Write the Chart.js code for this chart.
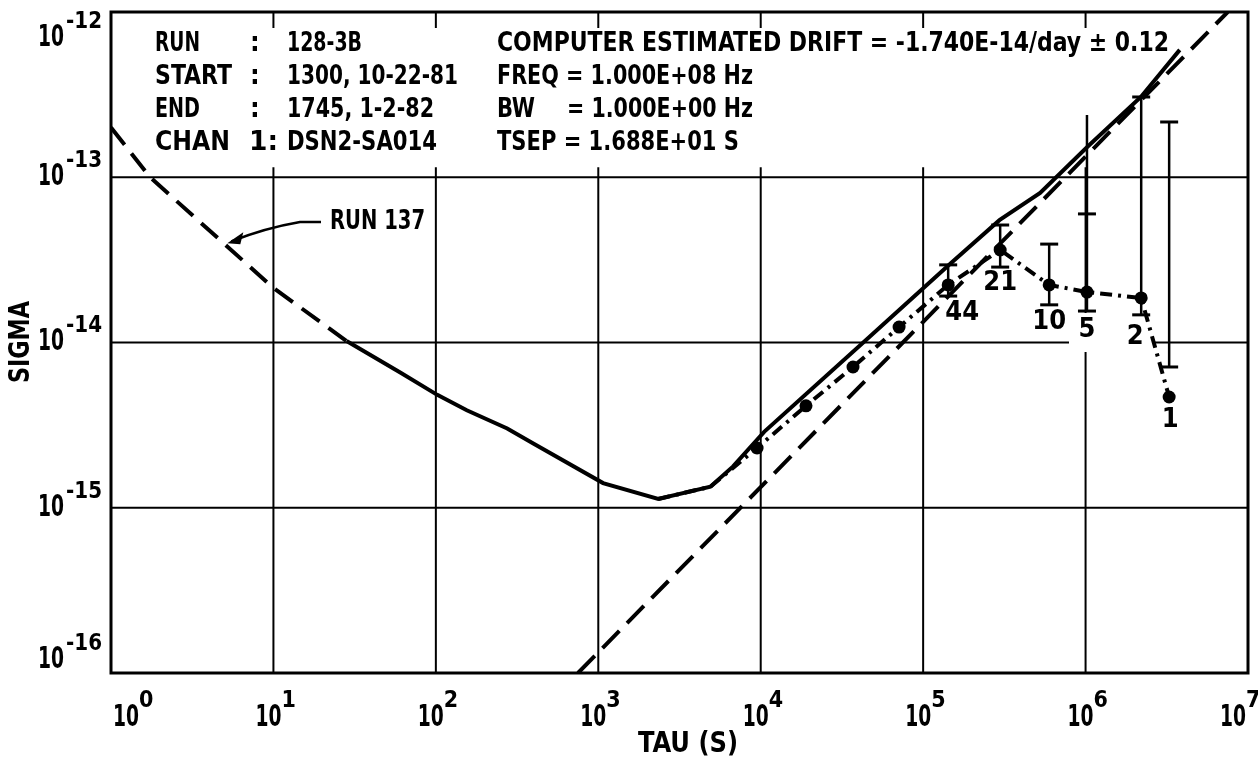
<!DOCTYPE html>
<html lang="en">
<head>
<meta charset="UTF-8">
<title>SIGMA vs TAU</title>
<script src="https://cdn.jsdelivr.net/npm/chart.js"></script>
<style>
  body { margin: 0; background: #fff; }
  #wrap { width: 1258px; height: 760px; }
</style>
</head>
<body>
<div id="wrap"><canvas id="sigmaChart"></canvas></div>
<script>
// axis decades and their exponent labels
var decadesX = [1, 10, 100, 1e3, 1e4, 1e5, 1e6, 1e7];
var expX = ['0', '1', '2', '3', '4', '5', '6', '7'];
var decadesY = [1e-16, 1e-15, 1e-14, 1e-13, 1e-12];
var expY = ['-16', '-15', '-14', '-13', '-12'];

// RUN 137 reference curve (dashed)
var run137Tau = [1, 1.74, 10, 28.2];
var run137Sigma = [2.0e-13, 1.0e-13, 2.14e-14, 1.02e-14];

// solid curve
var solidTau = [28.2, 60, 102, 155, 275, 398, 1070, 2340, 4900, 6760, 10500, 45200, 148000, 295000, 525000, 1.02e6, 2.19e6, 3.8e6];
var solidSigma = [1.02e-14, 6.6e-15, 4.82e-15, 3.89e-15, 3.02e-15, 2.45e-15, 1.41e-15, 1.13e-15, 1.34e-15, 1.78e-15, 2.88e-15, 1.05e-14, 3.02e-14, 5.5e-14, 8.04e-14, 1.52e-13, 3.06e-13, 5.9e-13];

// drift line (long dashes)
var driftTau = [750, 7.5e6];
var driftSigma = [1e-16, 1e-12];

// measured sigma (dash-dot with dots)
var measTau = [2340, 4900, 9500, 19000, 37000, 71100, 142600, 298000, 597000, 1.02e6, 2.2e6, 3.27e6];
var measSigma = [1.13e-15, 1.34e-15, 2.30e-15, 4.14e-15, 7.11e-15, 1.24e-14, 2.23e-14, 3.63e-14, 2.23e-14, 2.02e-14, 1.86e-14, 4.68e-15];

// error bars on the last points
var errTau = [142600, 298000, 597000, 1.02e6, 2.2e6, 3.27e6];
var errLow = [1.91e-14, 2.86e-14, 1.69e-14, 1.55e-14, 1.47e-14, 7.11e-15];
var errCap = [2.95e-14, 5.14e-14, 3.94e-14, 6.0e-14, 3.06e-13, 2.16e-13];
var errHigh = [2.95e-14, 5.14e-14, 3.94e-14, 2.38e-13, 3.06e-13, 2.16e-13];
var sampleCounts = ['44', '21', '10', '5', '2', '1'];

var FONT = '"Liberation Sans Narrow", "DejaVu Sans Condensed", sans-serif';

function pts(xs, ys) {
    return xs.map(function (x, i) { return { x: x, y: ys[i] }; });
}

// draw text left-aligned at x, middle at y, squeezed to width w (if given)
function fitText(ctx, s, x, y, size, w, align) {
    ctx.font = 'bold ' + size + 'px ' + FONT;
    ctx.textBaseline = 'middle';
    ctx.textAlign = 'left';
    var m = ctx.measureText(s).width;
    var k = w ? w / m : 1;
    var ww = m * k;
    var left = align === 'center' ? x - ww / 2 : (align === 'right' ? x - ww : x);
    ctx.save();
    ctx.translate(left, y);
    ctx.scale(k, 1);
    ctx.fillText(s, 0, 0);
    ctx.restore();
}

function line(ctx, x1, y1, x2, y2) {
    ctx.beginPath();
    ctx.moveTo(x1, y1);
    ctx.lineTo(x2, y2);
    ctx.stroke();
}

var frame = {
    id: 'frame',
    beforeDatasetsDraw: function (chart) {
        var ctx = chart.ctx, a = chart.chartArea;
        var xs = chart.scales.x, ys = chart.scales.y;
        ctx.save();
        ctx.strokeStyle = '#000';
        ctx.lineWidth = 2;
        for (var i = 1; i < decadesY.length - 1; i++) {
            var y = ys.getPixelForValue(decadesY[i]);
            line(ctx, a.left, y, a.right, y);
        }
        var yBand = ys.getPixelForValue(1e-13);
        for (var j = 1; j < decadesX.length - 1; j++) {
            var x = xs.getPixelForValue(decadesX[j]);
            line(ctx, x, yBand - 10, x, a.bottom);
            line(ctx, x, a.top, x, a.top + 16);
        }
        // gap in the grid under the "5" and "2" labels
        ctx.fillStyle = '#fff';
        ctx.fillRect(1069, 313, 84, 39);
        ctx.lineWidth = 3;
        ctx.strokeRect(a.left, a.top, a.right - a.left, a.bottom - a.top);
        ctx.restore();
    },
    afterDatasetsDraw: function (chart) {
        var ctx = chart.ctx, a = chart.chartArea;
        var xs = chart.scales.x, ys = chart.scales.y;
        ctx.save();
        ctx.strokeStyle = '#000';
        ctx.fillStyle = '#000';

        // error bars
        for (var i = 0; i < errTau.length; i++) {
            var x = xs.getPixelForValue(errTau[i]);
            var yl = ys.getPixelForValue(errLow[i]);
            var yh = ys.getPixelForValue(errHigh[i]);
            var yc = ys.getPixelForValue(errCap[i]);
            ctx.lineWidth = 2.5;
            line(ctx, x, yl, x, yh);
            ctx.lineWidth = 3;
            line(ctx, x - 9, yl, x + 9, yl);
            line(ctx, x - 9, yc, x + 9, yc);
        }

        // sample counts under the points
        var offs = [[14, 28], [0, 33], [0, 37], [0, 38], [-6, 39], [1, 23]];
        for (var k = 0; k < sampleCounts.length; k++) {
            var px = xs.getPixelForValue(errTau[k]) + offs[k][0];
            var py = ys.getPixelForValue(measSigma[k + 6]) + offs[k][1];
            fitText(ctx, sampleCounts[k], px, py, 27, 0, 'center');
        }

        // header text block
        var rows = [44, 77, 110, 143];
        fitText(ctx, 'RUN', 155, rows[0], 27, 45);
        fitText(ctx, 'START', 155, rows[1], 27, 77);
        fitText(ctx, 'END', 155, rows[2], 27, 45);
        fitText(ctx, 'CHAN', 155, rows[3], 27, 75);
        fitText(ctx, '1:', 249, rows[3], 27, 29);
        for (var r = 0; r < 3; r++) fitText(ctx, ':', 250, rows[r], 27);
        fitText(ctx, '128-3B', 287, rows[0], 27, 75);
        fitText(ctx, '1300, 10-22-81', 287, rows[1], 27, 171);
        fitText(ctx, '1745, 1-2-82', 287, rows[2], 27, 147);
        fitText(ctx, 'DSN2-SA014', 287, rows[3], 27, 150);
        fitText(ctx, 'COMPUTER ESTIMATED DRIFT = -1.740E-14/day \u00b1 0.12', 497, rows[0], 27, 672);
        fitText(ctx, 'FREQ = 1.000E+08 Hz', 497, rows[1], 27, 256);
        fitText(ctx, 'BW', 497, rows[2], 27, 38);
        fitText(ctx, '= 1.000E+00 Hz', 567, rows[2], 27, 186);
        fitText(ctx, 'TSEP = 1.688E+01 S', 497, rows[3], 27, 242);

        // RUN 137 annotation
        fitText(ctx, 'RUN 137', 330, 222, 27, 95);
        var tx = xs.getPixelForValue(5.2), ty = ys.getPixelForValue(3.98e-14);
        ctx.lineWidth = 2.5;
        ctx.beginPath();
        ctx.moveTo(321, 222);
        ctx.lineTo(300, 222);
        ctx.quadraticCurveTo(265, 228, tx + 4, ty - 2);
        ctx.stroke();
        ctx.beginPath();
        ctx.moveTo(tx, ty);
        ctx.lineTo(tx + 16, ty - 11);
        ctx.lineTo(tx + 13, ty + 1);
        ctx.closePath();
        ctx.fill();

        // y tick labels
        for (var m = 0; m < decadesY.length; m++) {
            var yy = ys.getPixelForValue(decadesY[m]);
            yy = Math.min(Math.max(yy, 38), 660);
            fitText(ctx, '10', 38, yy, 30, 26);
            fitText(ctx, expY[m], 66, yy - 16, 23, 36);
        }
        // x tick labels
        for (var n = 0; n < decadesX.length; n++) {
            var xx = xs.getPixelForValue(decadesX[n]);
            var left = Math.min(Math.max(xx - 18, 113), 1257 - 37);
            fitText(ctx, '10', left, 718, 30, 26);
            fitText(ctx, expX[n], left + 26, 701, 23);
        }

        // axis titles
        fitText(ctx, 'TAU (S)', 688, 745, 28, 100, 'center');
        ctx.save();
        ctx.translate(22, 342);
        ctx.rotate(-Math.PI / 2);
        fitText(ctx, 'SIGMA', 0, 0, 28, 82, 'center');
        ctx.restore();
        ctx.restore();
    }
};

var ctx = document.getElementById('sigmaChart').getContext('2d');
var sigmaChart = new Chart(ctx, {
    type: 'line',
    data: {
        datasets: [
            { data: pts(run137Tau, run137Sigma), borderColor: '#000', borderWidth: 4, borderDash: [22, 11], pointRadius: 0 },
            { data: pts(solidTau, solidSigma), borderColor: '#000', borderWidth: 4, pointRadius: 0 },
            { data: pts(driftTau, driftSigma), borderColor: '#000', borderWidth: 4, borderDash: [24, 11], pointRadius: 0 },
            {
                data: pts(measTau, measSigma), borderColor: '#000', borderWidth: 4, borderDash: [12, 6, 3, 6],
                pointRadius: function (c) { return c.dataIndex < 2 ? 0 : 6.5; },
                pointBackgroundColor: '#000', pointBorderWidth: 0
            }
        ]
    },
    options: {
        responsive: true,
        maintainAspectRatio: false,
        animation: false,
        layout: { padding: { left: 111, top: 12, right: 10, bottom: 87 } },
        plugins: { legend: { display: false }, tooltip: { enabled: false } },
        scales: {
            x: { type: 'logarithmic', min: 1, max: 1e7, display: false },
            y: { type: 'logarithmic', min: 1e-16, max: 1e-12, display: false }
        }
    },
    plugins: [frame]
});
</script>
</body>
</html>
